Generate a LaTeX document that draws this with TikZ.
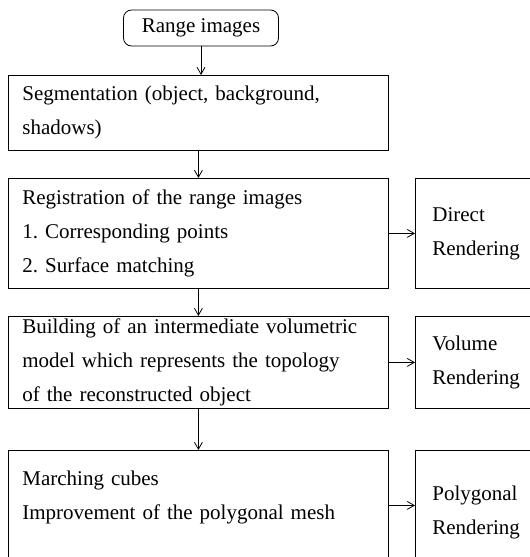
\documentclass[tikz,border=0pt]{standalone}
\usepackage{fontspec}
\setmainfont{Liberation Serif}
\usetikzlibrary{arrows.meta}

\begin{document}
\frenchspacing
\begin{tikzpicture}[x=1pt,y=-1pt,
  stage/.style={draw,line width=0.8pt,anchor=north west,align=left,
    inner xsep=14pt,inner ysep=0pt,text width=352pt,
    font=\fontsize{21}{34}\selectfont},
  output/.style={stage,inner xsep=17pt,text width=130pt},
  flow/.style={line width=0.8pt,-{Straight Barb[length=7pt,width=8pt]}}]

\clip (0,0) rectangle (530,557);

% Input
\node[draw,line width=0.8pt,rounded corners=8pt,minimum width=155pt,minimum height=36pt,
  font=\fontsize{21}{34}\selectfont] (range) at (201,28) {Range images};

% Processing chain
\node[stage,minimum height=75pt] (seg) at (8,75)
  {Segmentation (object, background,\\shadows)};
\node[stage,minimum height=110pt] (reg) at (8,178)
  {Registration of the range images\\1. Corresponding points\\2. Surface matching};
\node[stage,minimum height=92pt] (build) at (8,316)
  {Building of an intermediate volumetric\\model which represents the topology\\of the reconstructed object};
\node[stage,minimum height=110pt,text depth=55pt] (march) at (8,450)
  {Marching cubes\\Improvement of the polygonal mesh};

% Rendering
\node[output,minimum height=110pt] (direct) at (415,178) {Direct\\Rendering};
\node[output,minimum height=92pt] (volume) at (415,316) {Volume\\Rendering};
\node[output,minimum height=124pt] (poly) at (415,450) {Polygonal\\Rendering};

% Arrows
\draw[flow] (range.south) -- (range.south |- seg.north);
\draw[flow] (seg.south) -- (reg.north);
\draw[flow] (reg.south) -- (build.north);
\draw[flow] (build.south) -- (march.north);
\draw[flow] (reg.east) -- (direct.west);
\draw[flow] (build.east) -- (volume.west);
\draw[flow] (march.east) -- (march.east -| poly.west);
\end{tikzpicture}
\end{document}
